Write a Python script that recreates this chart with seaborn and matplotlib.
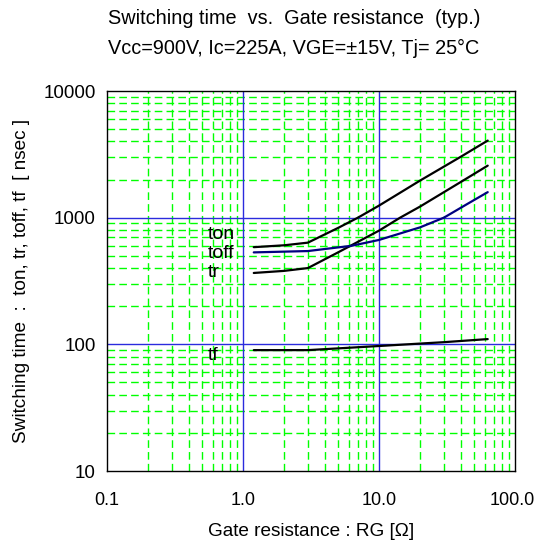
import numpy as np
import pandas as pd
import matplotlib
matplotlib.use('Agg')
import matplotlib.pyplot as plt
import matplotlib.transforms as mtransforms
import seaborn as sns

# values (Rg in ohm, times in nsec)
rg_ton = [1.2, 2.0, 3.0, 5.0, 7.0, 10.0, 20.0, 40.0, 63.0]
ton = [585, 605, 635, 830, 1000, 1245, 1960, 3030, 4060]

rg_tr = [1.2, 2.0, 3.0, 5.0, 10.0, 14.3, 20.0, 40.0, 63.0]
tr = [366, 380, 400, 532, 790, 1000, 1222, 1915, 2575]

rg_toff = [1.2, 3.0, 6.3, 10.0, 20.0, 30.0, 45.0, 63.0]
toff = [532, 545, 600, 667, 838, 1000, 1290, 1590]

rg_tf = [1.2, 3.0, 10.0, 30.0, 63.0]
tf = [90, 90, 97, 104, 110]

x_ticks = [0.1, 1, 10, 100]
x_labels = ['0.1', '1.0', '10.0', '100.0']
y_ticks = [10, 100, 1000, 10000]
y_labels = ['10', '100', '1000', '10000']

sns.set_style('white')
plt.rcParams['font.family'] = ['Liberation Sans', 'DejaVu Sans']
plt.rcParams['text.color'] = 'black'
plt.rcParams['axes.labelcolor'] = 'black'
plt.rcParams['xtick.color'] = 'black'
plt.rcParams['ytick.color'] = 'black'

fig = plt.figure(figsize=(5.36, 5.44), dpi=100)
ax = fig.add_axes([107 / 536, 1 - 471 / 544, 408 / 536, 380 / 544])
ax.set_xscale('log')
ax.set_yscale('log')
ax.set_xlim(0.1, 100)
ax.set_ylim(10, 10000)

# grid: green dashed minors, blue solid decades
for dec in [0.1, 1, 10]:
    for m in range(2, 10):
        ax.axvline(dec * m, color='#00ff00', lw=1, dashes=(5.5, 3), zorder=1)
for dec in [10, 100, 1000]:
    for m in range(2, 10):
        ax.axhline(dec * m, color='#00ff00', lw=1, dashes=(5.5, 3), zorder=1)
for v in [1, 10]:
    ax.axvline(v, color='#2b2bdd', lw=1, zorder=1.5)
for v in [100, 1000]:
    ax.axhline(v, color='#2b2bdd', lw=1, zorder=1.5)

curves = [
    ('ton', rg_ton, ton, 'black'),
    ('tr', rg_tr, tr, 'black'),
    ('toff', rg_toff, toff, '#000080'),
    ('tf', rg_tf, tf, 'black'),
]
for name, xs, ys, col in curves:
    df = pd.DataFrame({'rg': xs, 't': ys})
    sns.lineplot(data=df, x='rg', y='t', ax=ax, color=col, lw=1.6, zorder=3)

ax.text(0.553, 734, 'ton', fontsize=14, va='center')
ax.text(0.553, 518, 'toff', fontsize=14, va='center')
ax.text(0.553, 367, 'tr', fontsize=14, va='center')
ax.text(0.553, 82, 'tf', fontsize=14, va='center')

ax.set_xticks(x_ticks)
ax.set_xticklabels(x_labels)
ax.set_yticks(y_ticks)
ax.set_yticklabels(y_labels)
ax.minorticks_off()
ax.tick_params(length=0)
ax.tick_params(axis='y', pad=8, labelsize=13.6)
ax.tick_params(axis='x', pad=15, labelsize=13)
last = ax.get_xticklabels()[-1]
last.set_transform(last.get_transform() + mtransforms.ScaledTranslation(-0.03, 0, fig.dpi_scale_trans))
for s in ax.spines.values():
    s.set_color('black')
    s.set_linewidth(1)

ax.set_xlabel('Gate resistance : RG [Ω]', fontsize=13.7, labelpad=10)
ax.set_ylabel('Switching time  :  ton, tr, toff, tf  [ nsec ]', fontsize=13.7, labelpad=10)

fig.text(108 / 536, 1 - 18 / 544, 'Switching time  vs.  Gate resistance  (typ.)',
         ha='left', va='center', fontsize=14.3)
fig.text(108 / 536, 1 - 48 / 544, 'Vcc=900V, Ic=225A, VGE=±15V, Tj= 25°C',
         ha='left', va='center', fontsize=14.3)

fig.savefig('out.png', dpi=100)
